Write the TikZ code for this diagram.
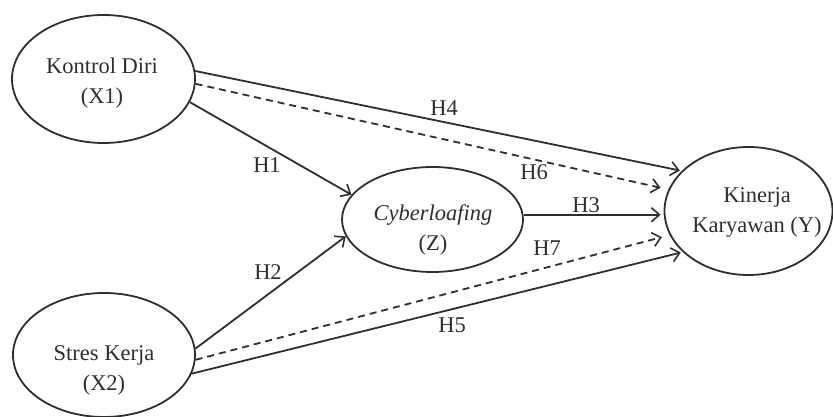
\documentclass[tikz,border=0pt]{standalone}
\usepackage{fontspec}
\setmainfont{Liberation Serif}
\usetikzlibrary{shapes.geometric,arrows.meta}

\definecolor{ink}{gray}{0.18}

\tikzset{
  var/.style={draw=ink, ellipse, line width=1.8pt, inner sep=0pt},
  vartext/.style={align=center, inner sep=0pt, text=ink,
    font=\fontsize{22.5}{30}\selectfont},
  hyp/.style={inner sep=0pt, text=ink, font=\fontsize{22.5}{27}\selectfont},
  path/.style={draw=ink, line width=1.8pt,
    -{Straight Barb[length=8pt,width=14pt,line width=1.6pt]}},
  dpath/.style={path, dash pattern=on 7pt off 5pt, shorten >=8pt},
}

\begin{document}
\begin{tikzpicture}[x=1pt,y=1pt]
\useasboundingbox (0,0) rectangle (833,417);

% latent variables
\node[var, minimum width=183pt, minimum height=128pt] (x1) at (103.5,338) {};
\node[var, minimum width=182pt, minimum height=124pt] (x2) at (104,62) {};
\node[var, minimum width=181pt, minimum height=105pt] (z)  at (432.5,197.5) {};
\node[var, minimum width=168pt, minimum height=128pt] (y)  at (748.5,206) {};

\node[vartext] (x1t) at (102,334) {Kontrol Diri\\(X1)};
\node[vartext] (x2t) at (104,47) {Stres Kerja\\(X2)};
\node[vartext] (zt)  at (433,187) {\textit{Cyberloafing}\\(Z)};
\node[vartext] (yt)  at (757,205) {Kinerja\\Karyawan (Y)};

% hypothesised paths
\draw[path] (x1.-15) -- (z.163);
\draw[path] (x2.4) -- (z.191);
\draw[path, shorten >=3pt] (z.3) -- (z.3 -| y.west);
\draw[path, shorten >=2pt] (x1.5.6) -- (y.149);
\draw[path, shorten >=2pt] (x2.-12) -- (y.212);
\draw[dpath] (x1.-3.75) -- (y.165);
\draw[dpath] (x2.-3) -- (y.197);

% path labels
\node[hyp] (h1) at (267,252) {H1};
\node[hyp] (h2) at (268,145) {H2};
\node[hyp] (h3) at (586,212) {H3};
\node[hyp] (h4) at (444,309) {H4};
\node[hyp] (h5) at (452,92) {H5};
\node[hyp] (h6) at (534,245) {H6};
\node[hyp] (h7) at (547,169) {H7};
\end{tikzpicture}
\end{document}
